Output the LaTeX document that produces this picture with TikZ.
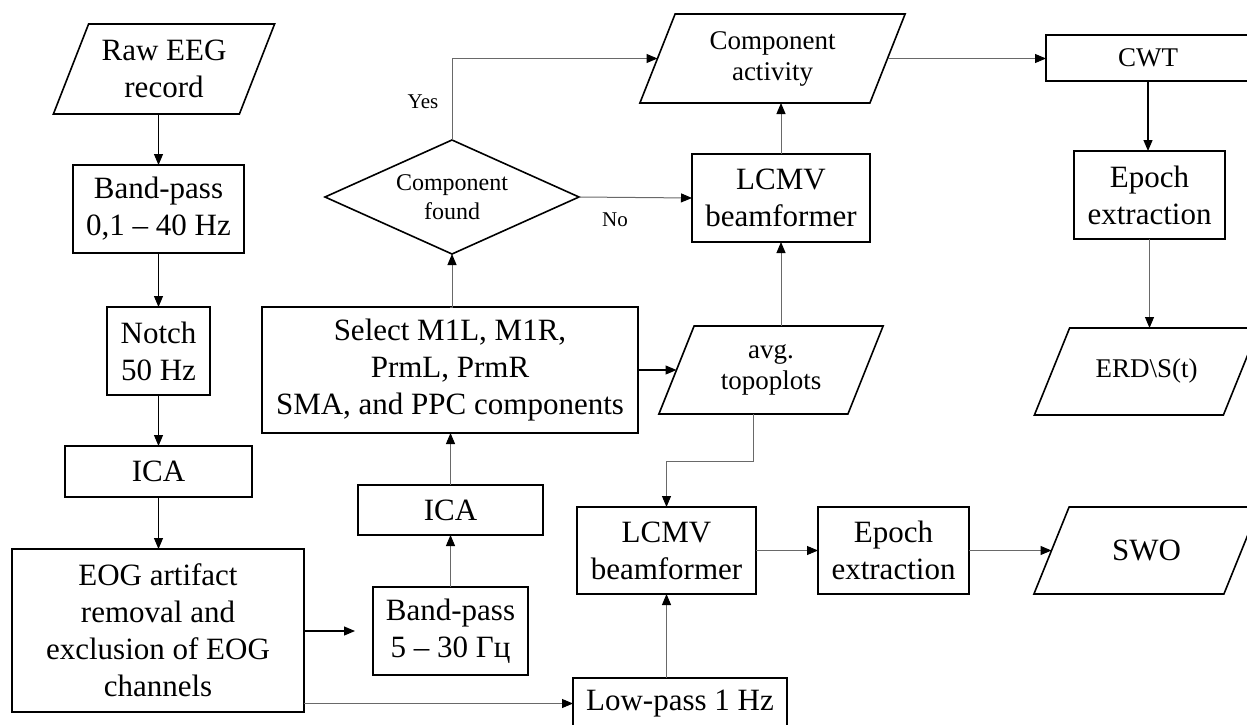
\documentclass[tikz,border=0pt]{standalone}
\usepackage{fontspec}
\setmainfont{Liberation Serif}
\usetikzlibrary{shapes.geometric, arrows.meta, positioning, calc}
\definecolor{ink}{RGB}{0,0,0}
\definecolor{wire}{RGB}{105,105,105}
\tikzset{
  box/.style={draw=ink, line width=1.6pt, rectangle, inner sep=0pt, outer sep=0pt, align=center, font=\fontsize{31}{37}\selectfont},
  io/.style={rectangle, inner sep=0pt, outer sep=0pt, align=center, minimum height=88pt},
  decide/.style={draw=ink, line width=1.6pt, diamond, aspect=2.2, inner sep=0pt, outer sep=0pt, align=center, minimum width=254pt, minimum height=114pt, font=\fontsize{24}{29}\selectfont},
  flow/.style={draw=ink, line width=1.2pt, -{Triangle[length=11pt,width=9pt]}},
  flowg/.style={draw=wire, line width=1pt, -{Triangle[length=11pt,width=9pt,color=ink]}},
  big/.style={font=\fontsize{31}{37}\selectfont},
  mid/.style={font=\fontsize{27}{31}\selectfont},
  tag/.style={font=\fontsize{21}{25}\selectfont, inner sep=0pt},
}
% slanted data frame round an io node
\newcommand{\ioframe}[1]{%
  \draw[ink, line width=1.6pt, line join=miter]
    ($(#1.south west)+(-17.6pt,0)$) -- ($(#1.south east)+(-17.6pt,0)$)
    -- ($(#1.north east)+(17.6pt,0)$) -- ($(#1.north west)+(17.6pt,0)$) -- cycle;}
\begin{document}
\begin{tikzpicture}[x=1pt, y=-1pt]
  \useasboundingbox (0,0) rectangle (1247,725);
  \clip (0,0) rectangle (1247,725);
  \fill[white] (0,0) rectangle (1247,725);

  % left column
  \node[io, big, minimum width=186pt, minimum height=90pt] (raw) at (164,69) {Raw EEG\\record};
  \node[box, minimum width=171pt, minimum height=88pt] (bp1) at (158.5,209) {Band-pass\\0,1 -- 40 Hz};
  \node[box, minimum width=103pt, minimum height=88pt] (notch) at (158.5,351) {Notch\\50 Hz};
  \node[box, minimum width=187pt, minimum height=51pt] (ica1) at (158.5,471.5) {ICA};
  \node[box, minimum width=292pt, minimum height=163pt] (eog) at (158,630.5) {EOG artifact\\removal and\\exclusion of EOG\\channels};

  % middle
  \node[box, minimum width=155pt, minimum height=88pt] (bp2) at (450.5,631) {Band-pass\\5 -- 30 Гц};
  \node[box, minimum width=185pt, minimum height=50pt] (ica2) at (450.5,510) {ICA};
  \node[box, minimum width=376pt, minimum height=126pt] (sel) at (450,370) {Select M1L, M1R,\\PrmL, PrmR\\SMA, and PPC components};
  \node[decide] (dia) at (452,197) {Component\\found};
  \node[box, minimum width=178pt, minimum height=88pt] (lcmv1) at (781,198) {LCMV\\beamformer};
  \node[io, mid, minimum width=230pt, minimum height=89pt] (act) at (772.5,58.5) {Component\\activity};
  \node[io, mid, minimum width=189pt] (topo) at (771,370) {avg.\\topoplots};
  \node[box, minimum width=179pt, minimum height=87pt] (lcmv2) at (666.5,550.5) {LCMV\\beamformer};
  \node[box, minimum width=151pt, minimum height=87pt] (ep2) at (893.5,550.5) {Epoch\\extraction};
  \node[box, minimum width=214pt, minimum height=51pt] (low) at (680,703.5) {Low-pass 1 Hz};

  % right column
  \node[box, mid, minimum width=204pt, minimum height=46pt] (cwt) at (1148,58) {CWT};
  \node[box, minimum width=151pt, minimum height=88pt] (ep1) at (1149.5,195) {Epoch\\extraction};
  \node[io, mid, minimum width=189pt, minimum height=87pt] (erd) at (1146.5,371.5) {ERD\textbackslash S(t)};
  \node[io, big, minimum width=190pt, minimum height=87pt] (swo) at (1146.5,550.5) {SWO};

  \ioframe{raw}
  \ioframe{act}
  \ioframe{topo}
  \ioframe{erd}
  \ioframe{swo}

  \draw[flow] (bp1.north |- raw.south) -- (bp1.north);
  \draw[flow] (bp1.south) -- (notch.north);
  \draw[flow] (notch.south) -- (ica1.north);
  \draw[flow] (ica1.south) -- (ica1.south |- eog.north);
  \draw[flow, shorten >=18pt] (eog.east |- bp2.west) -- (bp2.west);
  \draw[flowg] (eog.east |- low.west) -- (low.west);
  \draw[flowg] (bp2.north) -- (bp2.north |- ica2.south);
  \draw[flowg] (ica2.north) -- (ica2.north |- sel.south);
  \draw[flowg] (sel.north) -- (sel.north -| dia.south) -- (dia.south);
  \draw[flow] (sel.east) -- (topo.west);
  \draw[flowg] (dia.north) |- (act.west);
  \node[tag] (yes) at (423,102) {Yes};
  \draw[flowg] (dia.east) -- (lcmv1.west);
  \node[tag] (no) at (615,220) {No};
  \draw[flowg] (lcmv1.north) -- (lcmv1.north |- act.south);
  \draw[flowg] (lcmv1.south |- topo.north) -- (lcmv1.south);
  \draw[flowg] ($(topo.south)+(-17.6pt,0)$) -- ++(0,47) -| (lcmv2.north);
  \draw[flowg] (lcmv2.south |- low.north) -- (lcmv2.south);
  \draw[flowg] (lcmv2.east) -- (ep2.west);
  \draw[flowg] (ep2.east) -- (swo.west);
  \draw[flowg] (act.east) -- (act.east -| cwt.west);
  \draw[flow] (cwt.south) -- (cwt.south |- ep1.north);
  \draw[flowg] (ep1.south) -- (ep1.south |- erd.north);
\end{tikzpicture}
\end{document}
